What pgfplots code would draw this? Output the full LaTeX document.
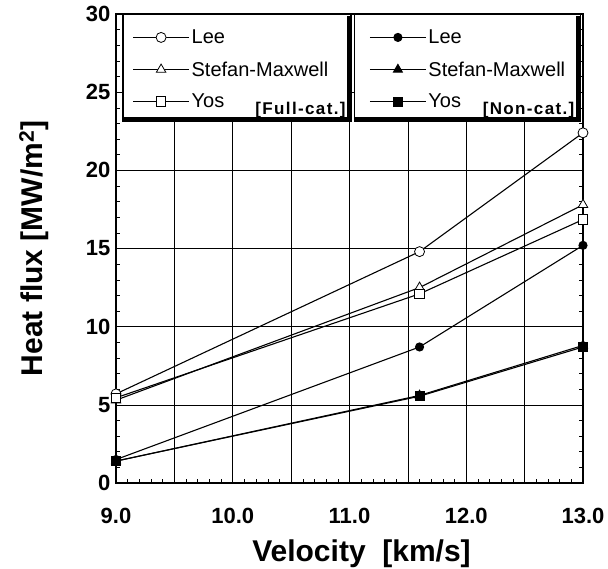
\documentclass[border=0pt]{standalone}
\usepackage{fontspec}
\setmainfont{Liberation Sans}
\newfontfamily\tagfont[LetterSpace=8]{Liberation Sans}
\usepackage{pgfplots}
\pgfplotsset{compat=1.18}

\begin{document}
\begin{tikzpicture}
\useasboundingbox (-116pt,-86pt) rectangle (492pt,483pt);
\begin{axis}[
    scale only axis,
    width=467pt, height=469pt,
    xmin=9, xmax=13, ymin=0, ymax=30,
    xtick={9,9.5,...,13},
    xticklabels={9.0,,10.0,,11.0,,12.0,,13.0},
    ytick={0,5,...,30},
    minor x tick num=4,
    minor y tick num=4,
    tick align=inside,
    major tick length=4pt, minor tick length=4pt,
    grid=major,
    grid style={black, line width=0.6pt},
    axis line style={line width=1.6pt},
    tick style={black, line width=0.5pt},
    /pgf/number format/assume math mode=true,
    ticklabel style={font=\fontsize{22}{22}\selectfont\bfseries},
    xticklabel style={yshift=-22pt},
    yticklabel style={xshift=-2pt},
    xlabel={Velocity\ \ [km/s]},
    ylabel={Heat flux [MW/m$^{\mathbf 2}$]},
    label style={font=\fontsize{30}{30}\selectfont\bfseries},
    xlabel style={xshift=12pt, yshift=-9pt},
    ylabel style={yshift=30pt},
    every axis plot/.append style={black, line width=1.1pt},
    legend image code/.code={
        \draw[mark repeat=2,mark phase=2,#1] plot coordinates {(0pt,0pt) (28pt,0pt) (56pt,0pt)};
    },
    legend columns=2,
    legend cell align=left,
    legend style={
        at={(rel axis cs:0.035,0.971)}, anchor=north west,
        draw=none, fill=none, inner sep=0pt,
        font=\fontsize{20}{20}\selectfont,
        row sep=12.5pt,
        /tikz/every even column/.append style={column sep=39pt},
    },
]
% boxes behind the legend
\fill[white] (rel axis cs:0.015,0.772) rectangle (rel axis cs:0.503,1);
\fill[white] (rel axis cs:0.510,0.772) rectangle (rel axis cs:0.994,1);
\draw[line width=1.2pt] (rel axis cs:0.015,0.772) rectangle (rel axis cs:0.503,1);
\draw[line width=1.2pt] (rel axis cs:0.510,0.772) rectangle (rel axis cs:0.994,1);
\draw[line width=4pt] (rel axis cs:0.015,0.776) -- (rel axis cs:0.499,0.776) -- (rel axis cs:0.499,0.995);
\draw[line width=4pt] (rel axis cs:0.510,0.776) -- (rel axis cs:0.990,0.776) -- (rel axis cs:0.990,0.995);
\draw[line width=1.6pt] (rel axis cs:0,1) -- (rel axis cs:1,1);
\node[anchor=base east, font=\fontsize{17}{17}\tagfont\bfseries, inner sep=0pt]
    at (rel axis cs:0.492,0.785) {[Full-cat.]};
\node[anchor=base east, font=\fontsize{17}{17}\tagfont\bfseries, inner sep=0pt]
    at (rel axis cs:0.982,0.785) {[Non-cat.]};

\addplot[mark=*, mark size=5pt, mark options={fill=white, line width=0.8pt}]
    coordinates {(9.0,5.7) (11.6,14.8) (13.0,22.4)};
\addlegendentry{Lee}
\addplot[mark=*, mark size=4pt, mark options={fill=black}]
    coordinates {(9.0,1.5) (11.6,8.7) (13.0,15.2)};
\addlegendentry{Lee}
\addplot[mark=triangle*, mark size=5.5pt, mark options={fill=white, line width=0.8pt}]
    coordinates {(9.0,5.3) (11.6,12.5) (13.0,17.8)};
\addlegendentry{Stefan-Maxwell}
\addplot[mark=triangle*, mark size=5pt, mark options={fill=black}]
    coordinates {(9.0,1.4) (11.6,5.6) (13.0,8.8)};
\addlegendentry{Stefan-Maxwell}
\addplot[mark=square*, mark size=4.8pt, mark options={fill=white, line width=0.8pt}]
    coordinates {(9.0,5.45) (11.6,12.1) (13.0,16.85)};
\addlegendentry{Yos}
\addplot[mark=square*, mark size=4.5pt, mark options={fill=black}]
    coordinates {(9.0,1.4) (11.6,5.55) (13.0,8.7)};
\addlegendentry{Yos}
\end{axis}
\end{tikzpicture}
\end{document}
